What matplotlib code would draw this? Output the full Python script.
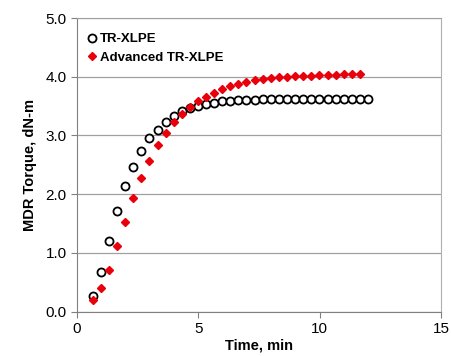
import numpy as np
import matplotlib.pyplot as plt

plt.rcParams['font.family'] = ['Liberation Sans', 'DejaVu Sans']

# Time points (min), one reading every 20 s
time_tr = [0.65, 0.98, 1.32, 1.65, 1.98, 2.32, 2.65, 2.98, 3.32, 3.65,
           3.98, 4.32, 4.65, 4.98, 5.32, 5.65, 5.98, 6.32, 6.65, 6.98,
           7.32, 7.65, 7.98, 8.32, 8.65, 8.98, 9.32, 9.65, 9.98, 10.32,
           10.65, 10.98, 11.32, 11.65, 11.98]
torque_tr = [0.26, 0.68, 1.20, 1.72, 2.14, 2.47, 2.74, 2.95, 3.10, 3.23,
             3.34, 3.42, 3.47, 3.51, 3.54, 3.56, 3.58, 3.59, 3.60, 3.61,
             3.61, 3.62, 3.62, 3.62, 3.63, 3.63, 3.63, 3.63, 3.63, 3.63,
             3.63, 3.63, 3.63, 3.63, 3.63]

time_adv = time_tr[:34]
torque_adv = [0.20, 0.40, 0.71, 1.12, 1.52, 1.94, 2.28, 2.57, 2.84, 3.05,
              3.23, 3.36, 3.49, 3.58, 3.66, 3.73, 3.79, 3.84, 3.88, 3.91,
              3.94, 3.96, 3.98, 3.99, 4.00, 4.01, 4.02, 4.02, 4.03, 4.03,
              4.03, 4.04, 4.04, 4.04]

fig = plt.figure(figsize=(4.51, 3.56), dpi=100)
ax = fig.add_axes([0.171, 0.125, 0.807, 0.824])

ax.plot(time_tr, torque_tr, 'o', ms=5.8, mfc='white', mec='black', mew=1.3,
        label='TR-XLPE', zorder=3)
ax.plot(time_adv, torque_adv, 'D', ms=4.3, color='#e8000b', mec='#e8000b',
        label='Advanced TR-XLPE', zorder=4)

ax.set_xlim(0, 15)
ax.set_ylim(0, 5)
ax.set_xticks([0, 5, 10, 15])
ax.set_yticks(np.arange(0, 5.01, 1.0))
ax.set_yticklabels(['0.0', '1.0', '2.0', '3.0', '4.0', '5.0'])
ax.yaxis.grid(True, color='#a0a0a0', lw=0.9)
ax.set_axisbelow(True)

for s in ['left', 'bottom']:
    ax.spines[s].set_color('#808080')
ax.spines['right'].set_color('#b0b0b0')
ax.spines['top'].set_color('#a0a0a0')
ax.tick_params(colors='#808080', labelcolor='black', labelsize=11,
               length=4, direction='out')

ax.set_xlabel('Time, min', fontsize=10.5, fontweight='bold', labelpad=2)
ax.set_ylabel('MDR Torque, dN-m', fontsize=10.5, fontweight='bold', labelpad=6)

leg = ax.legend(loc='upper left', frameon=False, prop={'weight': 'bold', 'size': 9.5},
                handletextpad=0.1, handlelength=1.0, labelspacing=0.5,
                borderaxespad=0.5, bbox_to_anchor=(-0.01, 0.99))

fig.savefig('out.png', dpi=100)
